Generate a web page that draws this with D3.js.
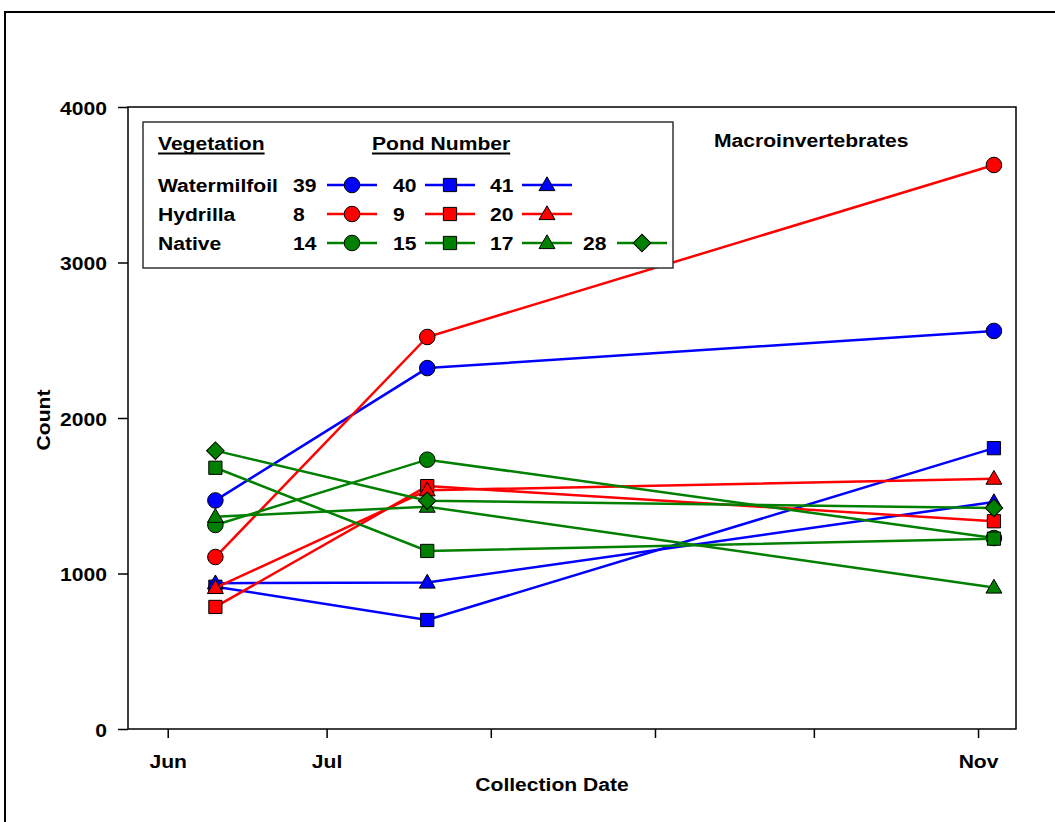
<!DOCTYPE html>
<html>
<head>
<meta charset="utf-8">
<script src="https://cdn.jsdelivr.net/npm/d3@7"></script>
<style>
  body { margin: 0; background: #fff; }
  text { font-family: "Liberation Sans", Arial, sans-serif; font-weight: bold; font-size: 19px; fill: #000; }
</style>
</head>
<body>
<div id="chart"></div>
<script>
// collection dates and tick labels
var dates = ["2004-06-10", "2004-07-20", "2004-11-04"];
var yTicks = [0, 1000, 2000, 3000, 4000];
var xTickLabels = ["Jun", "Jul", "", "", "", "Nov"];

// ponds, grouped by vegetation
var vegetationTypes = ["Watermilfoil", "Hydrilla", "Native"];
var ponds = [39, 40, 41, 8, 9, 20, 14, 15, 17, 28];
var pondVegetation = [0, 0, 0, 1, 1, 1, 2, 2, 2, 2];

// counts per pond at each collection date
var count39 = [1470, 2321, 2560];
var count40 = [915, 701, 1806];
var count41 = [938, 942, 1460];
var count8 = [1106, 2521, 3627];
var count9 = [785, 1562, 1336];
var count20 = [907, 1535, 1610];
var count14 = [1312, 1732, 1228];
var count15 = [1680, 1145, 1224];
var count17 = [1365, 1430, 910];
var count28 = [1790, 1468, 1422];
var counts = [count39, count40, count41, count8, count9, count20, count14, count15, count17, count28];

var colors = ["#0000ff", "#ff0000", "#008000"];
var pondShapes = ["circle", "square", "triangle", "circle", "square", "triangle", "circle", "square", "triangle", "diamond"];

var SX = 1.11; // glyphs in the picture are a bit wider than tall
var width = 1055, height = 822;
var parseDate = d3.timeParse("%Y-%m-%d");

var svg = d3.select("#chart").append("svg").attr("width", width).attr("height", height);

function stext(g, x, y, str, anchor) {
  return g.append("text")
    .attr("transform", "translate(" + x + "," + y + ") scale(" + SX + ",1)")
    .attr("text-anchor", anchor || "start")
    .text(str);
}

function marker(g, shape, cx, cy, color) {
  var sym, size, rot = 0;
  if (shape === "circle") { sym = d3.symbolCircle; size = 190; }
  else if (shape === "square") { sym = d3.symbolSquare; size = 175; }
  else if (shape === "triangle") { sym = d3.symbolTriangle; size = 110; }
  else { sym = d3.symbolSquare; size = 155; rot = 45; }
  var dy = shape === "triangle" ? 1 : 0;
  g.append("path")
    .attr("d", d3.symbol().type(sym).size(size)())
    .attr("transform", "translate(" + cx + "," + (cy + dy) + ") rotate(" + rot + ")")
    .attr("fill", color)
    .attr("stroke", "#000")
    .attr("stroke-width", 1);
}

// outer frame
svg.append("rect").attr("x", 5).attr("y", 12).attr("width", 1200).attr("height", 1000)
  .attr("fill", "none").attr("stroke", "#000").attr("stroke-width", 2);

var x = d3.scaleTime()
  .domain([new Date(2004, 4, 24, 12), new Date(2004, 10, 8, 4)])
  .range([128, 1016]);
var y = d3.scaleLinear().domain([0, 4000]).range([729, 107]);

// axes
var monthTicks = d3.timeMonth.range(new Date(2004, 5, 1), new Date(2004, 10, 2));
var xAxis = svg.append("g").attr("transform", "translate(0,729)")
  .call(d3.axisBottom(x).tickValues(monthTicks).tickSize(9).tickSizeOuter(0)
    .tickFormat(function(d, i) { return xTickLabels[i]; }));
var yAxis = svg.append("g").attr("transform", "translate(128,0)")
  .call(d3.axisLeft(y).tickValues(yTicks).tickSize(10).tickSizeOuter(0).tickFormat(d3.format("d")));

[xAxis, yAxis].forEach(function(a) {
  a.select(".domain").remove();
  a.selectAll("line").attr("stroke", "#000").attr("stroke-width", 1.5);
  a.selectAll("text").attr("font-size", null).attr("font-family", null);
});
xAxis.selectAll(".tick text").attr("x", 0).attr("y", 0).attr("dy", 0)
  .attr("transform", "translate(0,39) scale(" + SX + ",1)");
yAxis.selectAll(".tick text").attr("x", 0).attr("dy", 0)
  .attr("transform", "translate(-21,7) scale(" + SX + ",1)");

// plot frame
svg.append("rect").attr("x", 128).attr("y", 107).attr("width", 888).attr("height", 622)
  .attr("fill", "none").attr("stroke", "#000").attr("stroke-width", 1.5);

// axis titles
stext(svg, 552, 791, "Collection Date", "middle");
svg.append("text").attr("transform", "translate(50,420) rotate(-90) scale(" + SX + ",1)")
  .attr("text-anchor", "middle").text("Count");
stext(svg, 714, 147, "Macroinvertebrates");

// series
var line = d3.line()
  .x(function(d, i) { return x(parseDate(dates[i])); })
  .y(function(d) { return y(d); });

var series = svg.selectAll(".pond").data(ponds).enter().append("g").attr("class", "pond");
series.each(function(p, k) {
  var g = d3.select(this);
  var color = colors[pondVegetation[k]];
  g.append("path").attr("d", line(counts[k]))
    .attr("fill", "none").attr("stroke", color).attr("stroke-width", 2.5);
  counts[k].forEach(function(v, i) {
    marker(g, pondShapes[k], x(parseDate(dates[i])), y(v), color);
  });
});

// legend
var lg = svg.append("g");
lg.append("rect").attr("x", 143).attr("y", 122).attr("width", 530).attr("height", 146)
  .attr("fill", "#fff").attr("stroke", "#333").attr("stroke-width", 1.5);

function header(x0, str) {
  var t = stext(lg, x0, 150, str);
  var w = t.node().getComputedTextLength() * SX;
  lg.append("line").attr("x1", x0).attr("x2", x0 + w).attr("y1", 153.5).attr("y2", 153.5)
    .attr("stroke", "#000").attr("stroke-width", 2);
}
header(158, "Vegetation");
header(372, "Pond Number");

var rowY = [185, 214, 243];
var colNum = [293, 393, 490, 583];
var colLine = [327, 425, 522, 617];
vegetationTypes.forEach(function(v, r) {
  stext(lg, 158, rowY[r] + 7, v);
});
ponds.forEach(function(p, k) {
  var r = pondVegetation[k];
  var c = ponds.filter(function(q, j) { return j < k && pondVegetation[j] === r; }).length;
  var color = colors[r];
  stext(lg, colNum[c], rowY[r] + 7, String(p));
  lg.append("line").attr("x1", colLine[c]).attr("x2", colLine[c] + 50)
    .attr("y1", rowY[r]).attr("y2", rowY[r])
    .attr("stroke", color).attr("stroke-width", 2.5);
  marker(lg, pondShapes[k], colLine[c] + 25, rowY[r], color);
});
</script>
</body>
</html>
